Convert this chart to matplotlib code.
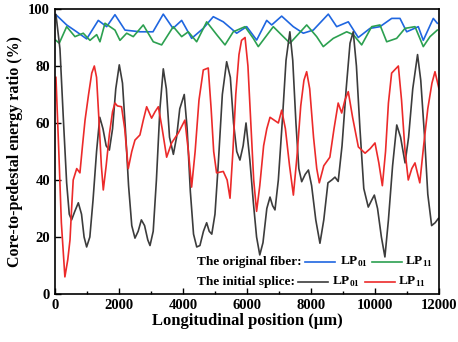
import matplotlib
matplotlib.use("Agg")
from matplotlib import pyplot as plt
from matplotlib.ticker import MultipleLocator

# Dados (posição em µm, razão em %)
blue_x = [31, 366, 678, 991, 1353, 1616, 1875, 2188, 2656, 3063, 3384, 3688, 3959, 4272,
          4634, 4947, 5259, 5678, 5991, 6303, 6616, 6772, 7084, 7447, 7759, 8072, 8541,
          8803, 9166, 9478, 9844, 10156, 10522, 10781, 10991, 11353, 11509, 11822, 11947]
blue_y = [98, 94.4, 92, 89.5, 96, 93.8, 98, 92.6, 92, 92, 98.2, 93.2, 96, 89.7,
          93.2, 97.3, 95.5, 91.5, 93.8, 89.1, 96, 94.4, 97.5, 93.8, 91.5, 92.6, 98.2,
          93.8, 95.5, 90, 93.2, 93.8, 96.7, 96.7, 92, 93.8, 89, 96.7, 95]

green_x = [31, 134, 366, 625, 884, 1094, 1303, 1406, 1563, 1875, 2031, 2241, 2447, 2759,
           3072, 3334, 3697, 3959, 4166, 4428, 4741, 5053, 5313, 5572, 5938, 6197, 6353,
           6822, 7134, 7344, 7866, 8178, 8384, 8697, 9116, 9322, 9584, 9897, 10156, 10366,
           10678, 10938, 11250, 11509, 11719, 11947]
green_y = [89, 88, 93.8, 90.3, 91.5, 89, 91, 88.5, 95, 92.6, 89, 91.5, 90.3, 94.4,
           88.5, 87.4, 93.8, 90.3, 92, 88.5, 95.5, 91, 87.4, 92, 93.8, 89.7, 86.8,
           93.8, 90.3, 88, 94.4, 90.3, 86.8, 89.7, 92, 91, 87.4, 93.8, 94.4, 88.5,
           89.7, 93.2, 93.8, 86.8, 90.3, 92.6]

black_x = [31, 156, 260, 365, 447, 520, 620, 730, 830, 910, 990, 1090, 1190, 1300, 1400,
           1500, 1600, 1700, 1800, 1900, 2010, 2110, 2200, 2300, 2400, 2500, 2600, 2700,
           2800, 2900, 2970, 3070, 3170, 3280, 3385, 3480, 3580, 3700, 3800, 3900, 4040,
           4130, 4230, 4330, 4430, 4530, 4640, 4740, 4820, 4900, 5000, 5100, 5230, 5365,
           5480, 5580, 5680, 5780, 5880, 5970, 6090, 6200, 6300, 6400, 6500, 6620, 6720,
           6800, 6875, 6980, 7100, 7220, 7340, 7430, 7530, 7620, 7710, 7820, 7920, 8020,
           8150, 8280, 8400, 8530, 8650, 8750, 8850, 8970, 9100, 9220, 9320, 9420, 9530,
           9650, 9790, 9900, 9980, 10080, 10200, 10310, 10420, 10550, 10680, 10800, 10940,
           11050, 11180, 11330, 11430, 11550, 11650, 11770, 11880, 11980]
black_y = [98, 86, 62, 39, 28, 26, 29, 32, 28, 20, 16.5, 20, 33, 50, 62,
           58, 52, 50.5, 58, 72, 80.4, 74, 58, 38, 24, 19.6, 22, 26,
           24, 19, 17, 22, 40, 65, 79, 72, 55, 49, 55, 65, 70,
           58, 36, 21, 16.5, 17, 22, 25, 22, 21, 28, 45, 70, 81.5,
           76, 60, 50, 47, 52, 60, 47, 32, 20, 13.7, 18, 30, 34,
           31, 29.5, 40, 60, 82, 92, 82, 60, 44, 39.4, 42, 43.5, 38,
           26, 17.8, 26, 39, 40, 41, 39.5, 52, 72, 88, 92, 80, 58,
           37, 30.5, 33, 34.7, 30, 20, 13, 26, 45, 59.3, 55, 46,
           55, 72, 84, 75, 55, 35, 24, 25, 26.5]

red_x = [31, 120, 200, 310, 400, 470, 520, 570, 680, 780, 860, 940, 1050, 1150, 1230,
         1300, 1380, 1450, 1510, 1600, 1700, 1800, 1875, 1950, 2080, 2180, 2290, 2400,
         2500, 2655, 2760, 2865, 3020, 3130, 3230, 3350, 3490, 3645, 3855, 4060, 4170,
         4270, 4380, 4500, 4635, 4790, 4880, 4960, 5050, 5260, 5380, 5470, 5560, 5650,
         5750, 5830, 5940, 6030, 6120, 6210, 6300, 6400, 6520, 6620, 6720, 6850, 6980,
         7085, 7200, 7330, 7450, 7560, 7680, 7780, 7865, 7960, 8080, 8180, 8260, 8400,
         8590, 8720, 8850, 8960, 9060, 9165, 9300, 9480, 9690, 9850, 10000, 10120, 10230,
         10330, 10420, 10520, 10730, 10830, 10940, 11040, 11150, 11250, 11400, 11520,
         11650, 11780, 11875, 12000]
red_y = [76, 50, 25, 6, 12, 19, 30, 40, 44, 42.5, 52, 61, 70, 77.5, 80,
         76, 60, 45, 36.5, 45, 56, 64, 67, 66, 65.7, 58, 44, 50,
         54, 55.8, 61, 65.7, 61.7, 64, 65.7, 58, 48, 53, 56.5, 61, 50,
         37.5, 50, 68, 78.6, 79.3, 65, 50, 42.5, 43, 40, 33.6, 50, 70,
         84, 89, 90, 80, 60, 40, 29, 38, 52, 58, 62, 61, 60,
         64.5, 58, 45, 34.7, 48, 66, 75, 78, 72, 55, 44, 39, 45,
         48, 58, 67, 63.5, 68, 71, 62, 51.6, 49.4, 51, 53, 46, 38,
         50, 67, 77.5, 80, 68, 50, 40, 44, 46, 39, 52,
         65, 74, 78, 72]

plt.rcParams["font.family"] = "Liberation Serif"
plt.rcParams["font.weight"] = "bold"
plt.rcParams["mathtext.fontset"] = "custom"
plt.rcParams["mathtext.rm"] = "Liberation Serif:bold"
plt.rcParams["mathtext.bf"] = "Liberation Serif:bold"

fig = plt.figure(figsize=(4.58, 3.42), dpi=100)
ax = fig.add_axes([0.120, 0.1404, 0.8385, 0.8333])

c_blue, c_green, c_black, c_red = "#1f66e0", "#2ca050", "#3c3c3c", "#ec2a2a"
lw = 1.2
ax.plot(blue_x, blue_y, color=c_blue, lw=lw)
ax.plot(green_x, green_y, color=c_green, lw=lw)
ax.plot(black_x, black_y, color=c_black, lw=lw)
ax.plot(red_x, red_y, color=c_red, lw=lw)

ax.set_xlim(0, 12000)
ax.set_ylim(0, 100)
ax.xaxis.set_major_locator(MultipleLocator(2000))
ax.xaxis.set_minor_locator(MultipleLocator(1000))
ax.yaxis.set_major_locator(MultipleLocator(20))
ax.tick_params(axis="both", which="both", direction="in", labelsize=10.5)
ax.tick_params(axis="both", which="major", length=4, width=1)
ax.tick_params(axis="x", which="minor", length=2.5, width=1)
for s in ax.spines.values():
    s.set_linewidth(1.2)

ax.set_xlabel("Longitudinal position (μm)", fontsize=12, fontweight="bold", labelpad=1)
ax.set_ylabel("Core-to-pedestal energy ratio (%)", fontsize=11.5, fontweight="bold", labelpad=4)

# Legenda desenhada à mão, em duas linhas
tr = ax.transAxes
fs = 9.5
rows = [(0.112, "The original fiber:", [(0.651, 0.729, c_blue, 0.742, "LP$_{01}$"),
                                         (0.826, 0.904, c_green, 0.911, "LP$_{11}$")]),
        (0.042, "The initial splice:", [(0.633, 0.711, c_black, 0.721, "LP$_{01}$"),
                                         (0.807, 0.885, c_red, 0.893, "LP$_{11}$")])]
for y, title, entries in rows:
    ax.text(0.370, y, title, transform=tr, fontsize=fs, fontweight="bold", va="center")
    for x0, x1, c, xt, lab in entries:
        ax.plot([x0, x1], [y, y], color=c, lw=lw, transform=tr)
        ax.text(xt, y, lab, transform=tr, fontsize=fs, fontweight="bold", va="center")

fig.savefig("out.png", dpi=100)
